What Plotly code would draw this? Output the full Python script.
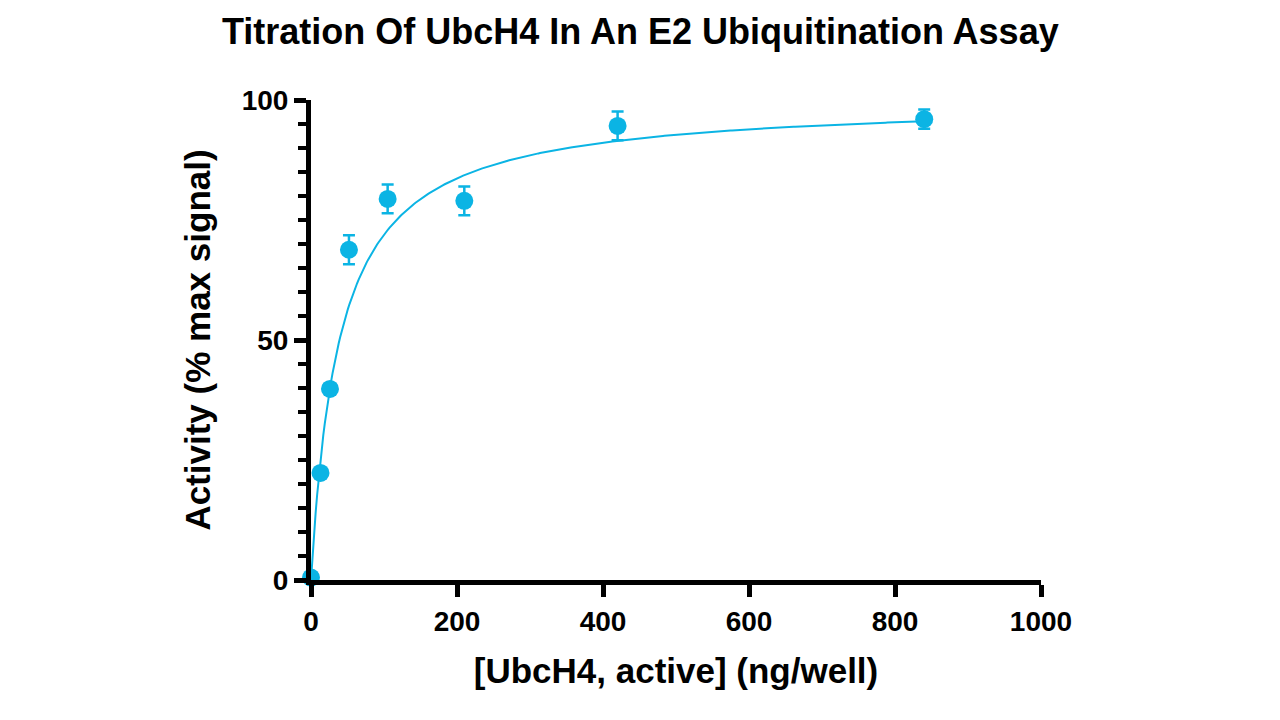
import numpy as np
import plotly.graph_objects as go

conc = [0, 13, 26, 52, 105, 210, 420, 840]
activity = [0.5, 22.3, 39.8, 68.8, 79.4, 79.0, 94.6, 96.0]
err = [0.5, 1.0, 1.0, 3.0, 3.0, 3.0, 3.0, 2.0]
vmax, km = 100.0, 39.0  # fitted hyperbola parameters

xf = np.linspace(0, 840, 400)
yf = vmax * xf / (km + xf)
color = "#0bb4e4"
fig = go.Figure()
fig.add_trace(go.Scatter(x=xf, y=yf, mode="lines", line=dict(color=color, width=2), cliponaxis=False, showlegend=False))
fig.add_trace(go.Scatter(x=conc, y=activity, mode="markers", cliponaxis=False, showlegend=False,
    marker=dict(color=color, size=18),
    error_y=dict(type="data", array=err, color=color, thickness=2.5, width=6)))
font = "Arial, Liberation Sans, sans-serif"
fig.update_layout(
    width=1280, height=720, paper_bgcolor="white", plot_bgcolor="white",
    margin=dict(l=303, r=247, t=92, b=148),
    title=dict(text="<b>Titration Of UbcH4 In An E2 Ubiquitination Assay</b>", x=0.494, xanchor="center", y=0.985, yanchor="top",
               font=dict(family=font, size=36, color="black")),
    font=dict(family=font, color="black"),
)
fig.update_xaxes(range=[0, 1000], showgrid=False, zeroline=False, showline=True, linewidth=5, linecolor="black",
    ticks="outside", ticklen=12, tickwidth=5, tickcolor="black", dtick=200,
    tickfont=dict(size=28, family=font), tickprefix="<b>", ticksuffix="</b>",
    title=dict(text="<b>[UbcH4, active] (ng/well)</b>", font=dict(size=35, family=font), standoff=24))
fig.update_yaxes(range=[0, 100], showgrid=False, zeroline=False, showline=True, linewidth=5, linecolor="black",
    ticks="outside", ticklen=12, tickwidth=5, tickcolor="black", dtick=50,
    minor=dict(dtick=5, ticks="outside", ticklen=8, tickwidth=4, tickcolor="black"),
    tickfont=dict(size=28, family=font), tickprefix="<b>", ticksuffix="</b>",
    title=dict(text="<b>Activity (% max signal)</b>", font=dict(size=35, family=font), standoff=22))
fig.write_html("out.html")
